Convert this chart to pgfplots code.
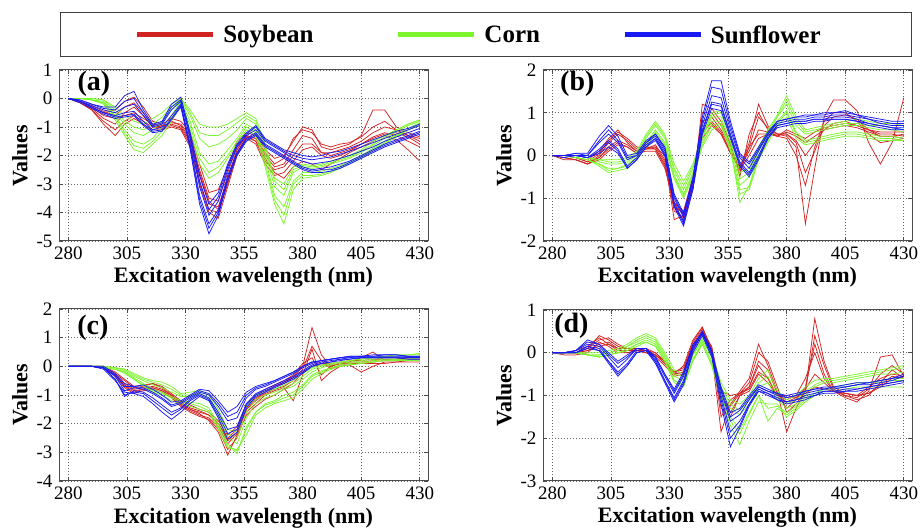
\documentclass[border=0pt]{standalone}
\usepackage{pgfplots}
\pgfplotsset{compat=1.18}
\usepackage{pgfplotstable}
\usepackage{fontspec}
\setmainfont{Liberation Serif}

\definecolor{soy}{RGB}{210,35,35}
\definecolor{corn}{RGB}{125,245,45}
\definecolor{sun}{RGB}{25,25,245}

% ---------- panel (a) ----------
\pgfplotstableread{
name 280 285 290 295 300  304 308 312 316 320 324 328 332 336 340  344 348 352 356 360 364 368 372 376 380  384 388 392 396 400  405 410 415 420 425 430
r1 0 -0.1 -0.3 -0.5 -0.4  -0.1 0.05 -0.3 -0.8 -0.9 -0.7 -0.8 -1.2 -2.3 -3.3  -3.2 -2.4 -1.5 -1.2 -1.3 -1.8 -2.1 -2.0 -1.5 -1.0  -1.1 -1.7 -1.8 -1.7 -1.6  -1.3 -0.4 -0.4 -1.0 -1.2 -1.35
r2 0 -0.1 -0.35 -0.7 -0.9  -0.5 -0.3 -0.6 -1.0 -1.0 -0.9 -1.0 -1.5 -2.7 -3.7  -3.8 -2.8 -1.8 -1.3 -1.4 -2.0 -2.4 -2.3 -1.8 -1.3  -1.4 -1.9 -1.9 -1.8 -1.7  -1.5 -1.2 -1.0 -1.1 -1.3 -1.5
r3 0 -0.15 -0.4 -0.9 -1.3  -0.9 -0.7 -0.9 -1.1 -1.1 -1.0 -1.1 -1.7 -3.0 -4.0  -4.2 -3.1 -2.0 -1.4 -1.6 -2.3 -2.7 -2.6 -2.2 -1.8  -1.7 -2.0 -2.1 -2.0 -1.85  -1.6 -1.35 -1.2 -1.3 -1.5 -1.7
r4 0 -0.1 -0.3 -0.6 -0.7  -0.6 -0.5 -0.7 -0.9 -0.95 -0.85 -0.9 -1.3 -2.5 -3.5  -3.6 -2.6 -1.7 -1.3 -1.5 -2.1 -2.6 -2.8 -2.4 -2.2  -2.3 -2.5 -2.3 -2.1 -1.9  -1.7 -1.5 -1.3 -1.45 -1.8 -2.2
r5 0 -0.1 -0.25 -0.45 -0.6  -0.3 -0.15 -0.5 -0.95 -1.0 -0.8 -0.95 -1.4 -2.6 -3.6  -3.9 -2.9 -1.8 -1.3 -1.4 -1.9 -2.3 -2.1 -1.4 -1.1  -1.2 -1.6 -1.7 -1.6 -1.55  -1.35 -1.0 -0.8 -1.1 -1.3 -1.4
r6 0 -0.15 -0.4 -0.8 -1.1  -0.8 -0.6 -0.8 -1.0 -1.05 -0.95 -1.05 -1.6 -2.9 -3.9  -4.0 -3.0 -1.9 -1.35 -1.5 -2.2 -2.5 -2.4 -2.0 -1.6  -1.6 -1.9 -2.0 -1.9 -1.8  -1.6 -1.4 -1.25 -1.2 -1.35 -1.6
g1 0 0 0 -0.05 -0.3  -0.6 -0.8 -0.9 -0.7 -0.5 -0.2 0.0 -0.4 -0.9 -1.0  -1.0 -0.9 -0.7 -0.5 -0.7 -1.6 -2.8 -3.0 -2.4 -2.3  -2.35 -2.3 -2.2 -2.1 -2.0  -1.8 -1.5 -1.3 -1.1 -0.9 -0.75
g2 0 0 -0.05 -0.1 -0.5  -0.9 -1.2 -1.3 -1.1 -0.8 -0.4 -0.05 -0.6 -1.4 -1.7  -1.6 -1.4 -1.1 -0.7 -0.9 -1.9 -3.1 -3.4 -2.6 -2.4  -2.45 -2.4 -2.3 -2.2 -2.1  -1.9 -1.65 -1.4 -1.15 -0.95 -0.8
g3 0 0 -0.05 -0.15 -0.6  -1.1 -1.5 -1.6 -1.4 -1.0 -0.6 -0.1 -0.8 -1.9 -2.3  -2.2 -1.8 -1.4 -0.9 -1.1 -2.1 -3.4 -3.8 -2.9 -2.6  -2.6 -2.55 -2.45 -2.35 -2.2  -2.0 -1.75 -1.5 -1.25 -1.05 -0.85
g4 0 0 -0.05 -0.2 -0.75  -1.3 -1.8 -1.9 -1.6 -1.3 -0.8 -0.2 -1.1 -2.3 -2.8  -2.6 -2.1 -1.6 -1.1 -1.3 -2.4 -3.7 -4.4 -3.2 -2.8  -2.75 -2.7 -2.6 -2.45 -2.3  -2.1 -1.85 -1.6 -1.35 -1.1 -0.9
g5 0 0 0 -0.05 -0.4  -0.8 -1.0 -1.1 -0.9 -0.65 -0.3 0.0 -0.5 -1.2 -1.3  -1.3 -1.1 -0.85 -0.6 -0.8 -1.75 -2.9 -3.2 -2.5 -2.35  -2.4 -2.35 -2.25 -2.15 -2.05  -1.85 -1.6 -1.35 -1.1 -0.9 -0.75
g6 0 0 -0.05 -0.15 -0.65  -1.2 -1.65 -1.75 -1.5 -1.15 -0.7 -0.15 -0.95 -2.1 -2.6  -2.4 -2.0 -1.5 -1.0 -1.2 -2.25 -3.55 -4.1 -3.0 -2.7  -2.7 -2.65 -2.55 -2.4 -2.25  -2.05 -1.8 -1.55 -1.3 -1.1 -0.9
b1 0 -0.05 -0.2 -0.3 -0.3  0.1 0.25 -0.4 -0.9 -0.8 -0.2 0.05 -1.2 -2.7 -3.7  -3.3 -2.3 -1.6 -1.2 -0.95 -1.4 -1.6 -1.8 -1.9 -2.0  -2.05 -2.0 -1.9 -1.85 -1.75  -1.6 -1.45 -1.3 -1.15 -1.05 -0.9
b2 0 -0.1 -0.25 -0.4 -0.5  -0.3 -0.2 -0.6 -1.0 -0.9 -0.4 -0.1 -1.4 -3.1 -4.1  -3.6 -2.5 -1.7 -1.3 -1.1 -1.5 -1.7 -1.9 -2.1 -2.2  -2.3 -2.25 -2.2 -2.1 -2.0  -1.85 -1.7 -1.5 -1.35 -1.2 -1.05
b3 0 -0.1 -0.3 -0.5 -0.6  -0.5 -0.45 -0.8 -1.1 -1.0 -0.6 -0.2 -1.6 -3.4 -4.4  -3.9 -2.7 -1.9 -1.4 -1.2 -1.6 -1.8 -2.0 -2.2 -2.4  -2.5 -2.45 -2.4 -2.3 -2.2  -2.0 -1.8 -1.6 -1.45 -1.3 -1.15
b4 0 -0.15 -0.35 -0.55 -0.7  -0.65 -0.6 -0.95 -1.2 -1.15 -0.75 -0.3 -1.8 -3.7 -4.75  -4.1 -2.9 -2.0 -1.5 -1.3 -1.7 -1.9 -2.1 -2.3 -2.5  -2.6 -2.6 -2.55 -2.45 -2.3  -2.1 -1.9 -1.7 -1.55 -1.4 -1.25
b5 0 -0.05 -0.2 -0.35 -0.4  -0.1 0.0 -0.5 -0.95 -0.85 -0.3 -0.05 -1.3 -2.9 -3.9  -3.45 -2.4 -1.65 -1.25 -1.0 -1.45 -1.65 -1.85 -2.0 -2.1  -2.15 -2.1 -2.05 -1.95 -1.85  -1.7 -1.55 -1.4 -1.25 -1.1 -0.95
b6 0 -0.1 -0.3 -0.5 -0.65  -0.6 -0.55 -0.9 -1.15 -1.1 -0.7 -0.25 -1.7 -3.55 -4.55  -4.0 -2.8 -1.95 -1.45 -1.25 -1.65 -1.85 -2.05 -2.25 -2.45  -2.55 -2.5 -2.5 -2.4 -2.25  -2.05 -1.85 -1.65 -1.5 -1.35 -1.2
}\rawA
\pgfplotstabletranspose[colnames from=name]\tabA\rawA

% ---------- panel (b) ----------
\pgfplotstableread{
name 280 285 290 295 300  304 308 312 316 320 324 328 332 336 340  344 348 352 356 360 364 368 372 376 380  384 388 392 396 400  405 410 415 420 425 430
r1 0 0 -0.05 -0.1 0.1  0.4 0.6 0.3 0.1 0.2 0.2 0.0 -1.1 -1.4 -0.6  0.8 0.9 0.6 0.2 -0.3 0.3 1.2 0.7 0.5 0.45  0.2 -1.6 -0.3 0.9 1.3  1.3 1.05 0.3 -0.2 0.3 1.35
r2 0 -0.05 -0.1 -0.2 0.0  0.3 0.5 0.35 0.15 0.15 0.25 -0.1 -1.5 -1.4 -0.8  1.2 1.1 0.8 0.3 -0.5 0.5 1.0 0.6 0.45 0.4  0.0 -0.7 0.2 0.8 1.0  1.0 0.8 0.5 0.3 0.35 0.4
r3 0 0 -0.05 -0.15 -0.05  0.2 0.35 0.25 0.1 0.2 0.15 -0.2 -1.2 -1.5 -0.7  0.5 0.8 0.55 0.1 -0.35 0.0 0.4 0.5 0.5 0.5  0.35 0.0 0.3 0.6 0.75  0.8 0.7 0.6 0.55 0.55 0.55
r4 0 -0.1 -0.1 -0.2 -0.1  0.1 0.25 0.2 0.05 0.1 0.1 -0.3 -1.1 -1.3 -0.5  0.4 0.7 0.5 0.05 -0.3 0.1 0.6 0.55 0.45 0.6  0.5 0.4 0.55 0.65 0.7  0.75 0.7 0.6 0.5 0.5 0.45
r5 0 0 -0.05 -0.15 0.05  0.35 0.55 0.4 0.2 0.15 0.2 -0.15 -1.3 -1.45 -0.7  1.0 1.0 0.7 0.25 -0.4 0.2 0.9 0.65 0.5 0.5  0.3 -0.4 0.1 0.7 0.9  0.95 0.85 0.6 0.45 0.45 0.5
r6 0 -0.05 -0.1 -0.2 -0.05  0.15 0.3 0.2 0.05 0.15 0.15 -0.25 -1.2 -1.35 -0.6  0.6 0.75 0.5 0.1 -0.25 0.2 0.5 0.5 0.45 0.55  0.45 0.3 0.45 0.6 0.65  0.7 0.65 0.55 0.45 0.45 0.4
g1 0 0 0 -0.05 -0.1  -0.1 -0.1 -0.05 0.1 0.5 0.8 0.5 -0.2 -0.6 -0.2  0.5 1.0 1.05 0.5 -0.4 -0.3 0.2 0.6 0.95 1.4  0.9 0.6 0.65 0.7 0.75  0.8 0.85 0.8 0.75 0.75 0.7
g2 0 0 0 -0.05 -0.15  -0.2 -0.2 -0.15 0.0 0.4 0.7 0.4 -0.35 -0.8 -0.3  0.4 0.9 0.9 0.3 -0.7 -0.5 0.1 0.5 0.9 1.2  0.7 0.5 0.55 0.6 0.65  0.7 0.7 0.65 0.6 0.6 0.55
g3 0 0 -0.05 -0.1 -0.2  -0.3 -0.3 -0.2 -0.05 0.3 0.6 0.3 -0.45 -0.9 -0.4  0.3 0.8 0.8 0.2 -1.1 -0.7 0.0 0.4 0.8 1.05  0.55 0.35 0.4 0.45 0.5  0.55 0.55 0.5 0.45 0.45 0.4
g4 0 0 -0.05 -0.1 -0.25  -0.4 -0.35 -0.3 -0.1 0.2 0.5 0.2 -0.55 -1.0 -0.5  0.2 0.6 0.7 0.1 -0.9 -0.8 -0.1 0.3 0.7 0.9  0.4 0.25 0.3 0.35 0.4  0.45 0.45 0.4 0.35 0.35 0.35
g5 0 0 0 -0.05 -0.1  -0.15 -0.15 -0.1 0.05 0.45 0.75 0.45 -0.3 -0.7 -0.25  0.45 0.95 1.0 0.4 -0.55 -0.4 0.15 0.55 0.9 1.3  0.8 0.55 0.6 0.65 0.7  0.75 0.75 0.7 0.7 0.65 0.6
g6 0 0 -0.05 -0.1 -0.2  -0.35 -0.3 -0.25 -0.05 0.25 0.55 0.25 -0.5 -0.95 -0.45  0.25 0.7 0.75 0.15 -0.8 -0.75 -0.05 0.35 0.75 1.0  0.5 0.3 0.35 0.4 0.45  0.5 0.5 0.45 0.4 0.4 0.35
b1 0 0 0.05 0.05 0.45  0.7 0.45 0.0 0.05 0.35 0.5 0.2 -0.9 -1.35 -0.5  0.9 1.75 1.75 0.8 0.05 -0.15 0.2 0.55 0.8 0.85  0.9 0.95 0.95 1.0 1.0  1.05 0.95 0.9 0.85 0.8 0.8
b2 0 0 0 0.0 0.3  0.5 0.3 -0.1 0.0 0.3 0.45 0.1 -1.0 -1.45 -0.6  0.7 1.4 1.35 0.6 -0.05 -0.3 0.1 0.5 0.75 0.8  0.85 0.85 0.9 0.9 0.95  0.95 0.9 0.85 0.75 0.7 0.7
b3 0 0 0 -0.05 0.15  0.35 0.15 -0.25 -0.05 0.25 0.4 0.05 -1.1 -1.55 -0.7  0.6 1.25 1.2 0.5 -0.15 -0.4 0.0 0.45 0.7 0.75  0.8 0.8 0.85 0.85 0.9  0.9 0.85 0.75 0.7 0.65 0.65
b4 0 -0.05 0 -0.05 0.05  0.2 0.05 -0.3 -0.1 0.2 0.35 0.0 -1.2 -1.65 -0.8  0.5 1.1 1.05 0.4 -0.25 -0.5 -0.1 0.4 0.65 0.7  0.75 0.75 0.8 0.8 0.85  0.85 0.8 0.7 0.65 0.6 0.6
b5 0 0 0.05 0.0 0.35  0.6 0.35 -0.05 0.0 0.3 0.5 0.15 -0.95 -1.4 -0.55  0.8 1.6 1.55 0.7 0.0 -0.2 0.15 0.5 0.8 0.85  0.9 0.9 0.95 0.95 1.0  1.0 0.95 0.85 0.8 0.75 0.75
b6 0 0 0 -0.05 0.1  0.3 0.1 -0.3 -0.1 0.2 0.4 0.0 -1.15 -1.6 -0.75  0.55 1.2 1.15 0.45 -0.2 -0.45 -0.05 0.4 0.7 0.75  0.8 0.8 0.85 0.85 0.85  0.85 0.8 0.75 0.7 0.65 0.6
}\rawB
\pgfplotstabletranspose[colnames from=name]\tabB\rawB

% ---------- panel (c) ----------
\pgfplotstableread{
name 280 285 290 295 300  304 308 312 316 320 324 328 332 336 340  344 348 352 356 360 364 368 372 376 380  384 388 392 396 400  405 410 415 420 425 430
r1 0 0 0 -0.05 -0.3  -0.6 -0.8 -0.75 -0.7 -0.8 -1.0 -1.3 -1.5 -1.6 -1.7  -2.0 -2.5 -2.2 -1.4 -1.1 -0.9 -0.7 -0.6 -0.4 0.0  1.35 0.4 0.0 0.1 0.15  0.15 0.2 0.25 0.25 0.3 0.3
r2 0 0 0 -0.05 -0.35  -0.75 -0.95 -0.85 -0.8 -0.9 -1.1 -1.4 -1.6 -1.75 -1.85  -2.2 -2.9 -2.5 -1.6 -1.3 -1.0 -0.85 -0.75 -1.2 -0.3  0.6 -0.5 -0.2 0.0 0.05  -0.2 0.0 0.15 0.15 0.2 0.2
r3 0 0 0 0 -0.25  -0.5 -0.75 -0.7 -0.6 -0.7 -0.95 -1.2 -1.35 -1.5 -1.6  -1.9 -2.4 -2.1 -1.3 -1.0 -0.8 -0.65 -0.5 -0.3 0.1  0.3 -0.3 0.0 0.1 0.15  0.3 0.5 0.2 0.2 0.25 0.25
r4 0 0 0 -0.05 -0.3  -0.7 -0.9 -0.8 -0.75 -0.85 -1.05 -1.3 -1.5 -1.65 -1.9  -2.3 -3.1 -2.4 -1.7 -1.4 -1.15 -1.0 -0.8 -0.6 -0.2  0.0 0.05 0.05 0.1 0.1  0.1 0.1 0.1 0.15 0.15 0.15
r5 0 0 0 -0.05 -0.3  -0.65 -0.85 -0.8 -0.75 -0.85 -1.05 -1.35 -1.55 -1.7 -1.8  -2.1 -2.7 -2.35 -1.5 -1.2 -0.95 -0.8 -0.7 -0.5 -0.1  0.7 0.2 -0.1 0.05 0.1  0.1 0.15 0.2 0.2 0.25 0.25
r6 0 0 0 0 -0.2  -0.45 -0.7 -0.65 -0.6 -0.75 -1.0 -1.25 -1.45 -1.55 -1.7  -2.0 -2.6 -2.3 -1.5 -1.15 -0.9 -0.7 -0.55 -0.35 0.0  0.15 0.1 0.1 0.15 0.2  0.2 0.25 0.25 0.25 0.3 0.3
g1 0 0 0 0 -0.05  -0.1 -0.25 -0.4 -0.5 -0.55 -0.7 -0.95 -0.9 -0.85 -1.0  -1.5 -2.2 -2.3 -1.4 -1.0 -0.9 -0.8 -0.65 -0.5 -0.25  -0.05 0.05 0.1 0.15 0.2  0.25 0.3 0.35 0.4 0.4 0.45
g2 0 0 0 0 -0.05  -0.15 -0.35 -0.5 -0.65 -0.75 -0.9 -1.05 -1.05 -1.0 -1.2  -1.75 -2.5 -2.7 -1.8 -1.3 -1.1 -1.0 -0.8 -0.7 -0.45  -0.2 -0.05 0.05 0.1 0.15  0.2 0.25 0.3 0.3 0.35 0.35
g3 0 0 0 -0.05 -0.1  -0.2 -0.4 -0.6 -0.8 -0.9 -1.05 -1.2 -1.25 -1.3 -1.45  -2.0 -2.7 -3.05 -2.1 -1.6 -1.3 -1.2 -1.0 -0.9 -0.65  -0.3 -0.15 -0.05 0.05 0.1  0.15 0.2 0.25 0.25 0.25 0.3
g4 0 0 0 -0.05 -0.1  -0.25 -0.45 -0.7 -0.9 -1.0 -1.2 -1.3 -1.4 -1.5 -1.6  -2.2 -2.85 -2.9 -2.4 -1.7 -1.45 -1.3 -1.2 -1.1 -0.8  -0.45 -0.25 -0.1 0.0 0.05  0.1 0.15 0.2 0.2 0.2 0.2
g5 0 0 0 0 -0.05  -0.1 -0.3 -0.45 -0.55 -0.65 -0.8 -1.0 -1.0 -0.95 -1.1  -1.6 -2.35 -2.5 -1.6 -1.15 -1.0 -0.9 -0.75 -0.6 -0.35  -0.1 0.0 0.1 0.15 0.2  0.25 0.3 0.35 0.35 0.4 0.4
g6 0 0 0 -0.05 -0.1  -0.2 -0.45 -0.65 -0.85 -0.95 -1.1 -1.25 -1.3 -1.4 -1.55  -2.1 -2.8 -2.95 -2.2 -1.6 -1.35 -1.25 -1.1 -1.0 -0.7  -0.35 -0.2 -0.05 0.0 0.05  0.1 0.15 0.2 0.25 0.25 0.25
b1 0 0 0 0 -0.25  -0.6 -0.7 -0.65 -0.8 -1.0 -1.25 -1.2 -1.0 -0.8 -0.85  -1.2 -1.6 -1.4 -0.9 -0.7 -0.6 -0.5 -0.35 -0.2 0.0  0.15 0.2 0.25 0.3 0.35  0.35 0.4 0.4 0.4 0.35 0.35
b2 0 0 0 -0.05 -0.35  -0.85 -0.75 -0.8 -0.95 -1.15 -1.4 -1.3 -1.1 -0.9 -1.0  -1.4 -1.9 -1.8 -1.1 -0.8 -0.7 -0.55 -0.4 -0.25 -0.05  0.1 0.2 0.25 0.3 0.3  0.35 0.35 0.35 0.35 0.35 0.3
b3 0 0 0 -0.05 -0.45  -1.05 -0.85 -0.9 -1.1 -1.35 -1.6 -1.45 -1.15 -0.95 -1.1  -1.6 -2.2 -2.1 -1.3 -0.95 -0.8 -0.65 -0.5 -0.35 -0.15  0.05 0.15 0.2 0.25 0.3  0.3 0.3 0.3 0.3 0.3 0.3
b4 0 0 0 -0.1 -0.5  -0.9 -0.95 -1.05 -1.3 -1.6 -1.85 -1.6 -1.3 -1.05 -1.2  -1.8 -2.55 -2.3 -1.45 -1.05 -0.9 -0.75 -0.6 -0.45 -0.25  0.0 0.1 0.15 0.2 0.25  0.3 0.3 0.3 0.3 0.25 0.25
b5 0 0 0 -0.05 -0.3  -0.7 -0.7 -0.75 -0.9 -1.1 -1.35 -1.25 -1.05 -0.85 -0.95  -1.3 -1.75 -1.6 -1.0 -0.75 -0.65 -0.5 -0.35 -0.2 0.0  0.15 0.2 0.25 0.3 0.35  0.35 0.35 0.4 0.4 0.35 0.35
b6 0 0 0 -0.05 -0.45  -1.0 -0.9 -0.95 -1.2 -1.45 -1.7 -1.5 -1.2 -1.0 -1.15  -1.7 -2.35 -2.2 -1.35 -1.0 -0.85 -0.7 -0.55 -0.4 -0.2  0.0 0.1 0.15 0.25 0.25  0.3 0.3 0.3 0.3 0.3 0.3
}\rawC
\pgfplotstabletranspose[colnames from=name]\tabC\rawC

% ---------- panel (d) ----------
\pgfplotstableread{
name 280 285 290 295 300  304 308 312 316 320 324 328 332 336 340  344 348 352 356 360 364 368 372 376 380  384 388 392 396 400  405 410 415 420 425 430
r1 0 0 0.05 0.15 0.35  0.2 0.1 0.1 0.05 0.0 -0.05 -0.25 -0.5 -0.3 0.3  0.6 0.0 -1.85 -1.2 -0.9 -0.6 0.2 -0.3 -0.9 -1.85  -1.3 -0.9 0.8 -0.2 -0.8  -0.95 -1.0 -0.8 -0.6 -0.5 -0.55
r2 0 0 0.0 0.1 0.4  0.3 0.15 0.1 0.1 0.05 0.0 -0.2 -0.45 -0.4 0.2  0.55 0.1 -1.3 -1.5 -1.0 -0.8 -0.2 -0.4 -0.95 -1.3  -1.1 -0.8 0.2 -0.5 -0.9  -1.05 -1.15 -0.9 -0.1 -0.05 -0.55
r3 0 0 0.0 0.05 0.2  0.25 0.1 0.0 0.05 0.1 0.0 -0.2 -0.5 -0.45 0.15  0.5 0.15 -0.9 -1.0 -0.95 -0.8 -0.3 -0.6 -1.0 -1.1  -1.0 -0.6 0.0 -0.6 -0.9  -1.0 -1.1 -1.0 -0.7 -0.4 -0.6
r4 0 -0.05 -0.05 0.0 0.25  0.15 0.0 0.0 0.05 0.0 -0.1 -0.3 -0.55 -0.5 0.1  0.45 0.05 -1.0 -1.4 -1.0 -0.9 -0.5 -0.7 -1.0 -1.0  -1.05 -0.95 -0.8 -0.85 -0.9  -0.95 -1.0 -0.95 -0.8 -0.6 -0.6
r5 0 0 0.0 0.1 0.3  0.35 0.2 0.1 0.1 0.05 -0.05 -0.25 -0.45 -0.35 0.25  0.6 0.1 -1.5 -1.1 -0.95 -0.7 0.0 -0.2 -0.8 -1.4  -1.2 -0.9 0.4 -0.3 -0.85  -1.0 -1.05 -0.85 -0.5 -0.3 -0.5
r6 0 0 0.0 0.05 0.15  0.2 0.05 0.05 0.05 0.05 -0.05 -0.2 -0.5 -0.45 0.1  0.5 0.05 -1.1 -1.25 -0.95 -0.85 -0.45 -0.6 -1.0 -1.15  -1.05 -0.85 -0.5 -0.7 -0.9  -0.95 -1.0 -0.95 -0.75 -0.55 -0.6
g1 0 0 0 0 0.0  0.05 0.1 0.2 0.35 0.45 0.35 0.0 -0.4 -0.5 0.0  0.35 0.0 -0.7 -1.1 -1.2 -1.0 -0.6 -0.4 -0.9 -1.1  -1.0 -0.8 -0.65 -0.6 -0.6  -0.55 -0.5 -0.45 -0.4 -0.35 -0.3
g2 0 0 0 -0.05 -0.05  0.0 0.05 0.15 0.25 0.35 0.25 -0.1 -0.55 -0.65 -0.05  0.3 -0.1 -0.85 -1.3 -1.45 -1.2 -0.8 -0.7 -1.1 -1.3  -1.2 -1.0 -0.8 -0.7 -0.7  -0.65 -0.6 -0.55 -0.5 -0.5 -0.45
g3 0 0 0 -0.05 -0.1  -0.05 0.0 0.1 0.2 0.3 0.2 -0.15 -0.65 -0.75 -0.15  0.25 -0.2 -0.95 -1.5 -1.8 -1.4 -1.0 -1.6 -1.3 -1.45  -1.3 -1.1 -0.95 -0.85 -0.8  -0.75 -0.7 -0.7 -0.65 -0.6 -0.6
g4 0 0 0 -0.05 -0.1  -0.05 0.0 0.05 0.15 0.25 0.15 -0.2 -0.7 -0.8 -0.2  0.2 -0.3 -1.1 -1.7 -2.15 -1.6 -1.15 -1.2 -1.2 -1.5  -1.35 -1.15 -1.0 -0.9 -0.9  -0.85 -0.8 -0.8 -0.8 -0.8 -0.8
g5 0 0 0 -0.05 -0.05  0.0 0.05 0.15 0.3 0.4 0.3 -0.05 -0.5 -0.55 -0.05  0.3 -0.05 -0.8 -1.2 -1.35 -1.1 -0.7 -0.55 -1.0 -1.2  -1.1 -0.9 -0.75 -0.65 -0.65  -0.6 -0.55 -0.5 -0.45 -0.4 -0.35
g6 0 0 0 -0.05 -0.1  -0.05 0.0 0.05 0.2 0.25 0.15 -0.2 -0.65 -0.75 -0.15  0.2 -0.25 -1.0 -1.6 -1.9 -1.45 -1.0 -1.3 -1.25 -1.4  -1.25 -1.05 -0.95 -0.85 -0.85  -0.8 -0.75 -0.7 -0.7 -0.65 -0.65
b1 0 0 0.05 0.3 0.2  0.0 -0.2 -0.05 0.1 0.1 -0.1 -0.5 -0.85 -0.45 0.2  0.45 0.0 -0.8 -1.4 -1.3 -1.0 -0.75 -0.85 -0.95 -1.0  -0.95 -0.9 -0.85 -0.8 -0.8  -0.75 -0.7 -0.7 -0.65 -0.6 -0.5
b2 0 0 0.05 0.2 0.15  -0.1 -0.35 -0.15 0.1 0.1 -0.15 -0.55 -0.95 -0.55 0.15  0.5 0.05 -0.9 -1.6 -1.45 -1.1 -0.8 -0.9 -1.0 -1.05  -1.0 -0.95 -0.9 -0.85 -0.85  -0.8 -0.75 -0.75 -0.7 -0.65 -0.55
b3 0 0 0.0 0.15 0.1  -0.2 -0.45 -0.25 0.05 0.1 -0.2 -0.65 -1.05 -0.65 0.1  0.45 0.0 -1.0 -1.85 -1.6 -1.2 -0.85 -0.95 -1.05 -1.15  -1.1 -1.0 -0.95 -0.9 -0.9  -0.85 -0.85 -0.8 -0.75 -0.7 -0.65
b4 0 0 0.0 0.1 0.05  -0.25 -0.55 -0.3 0.0 0.05 -0.25 -0.7 -1.15 -0.75 0.0  0.4 -0.1 -1.2 -2.2 -1.75 -1.25 -0.9 -1.0 -1.1 -1.2  -1.15 -1.1 -1.0 -0.95 -0.95  -0.9 -0.9 -0.85 -0.8 -0.75 -0.7
b5 0 0 0.05 0.25 0.2  -0.05 -0.25 -0.1 0.1 0.1 -0.1 -0.5 -0.9 -0.5 0.15  0.5 0.05 -0.85 -1.5 -1.35 -1.05 -0.8 -0.9 -0.95 -1.05  -1.0 -0.9 -0.85 -0.85 -0.8  -0.8 -0.75 -0.7 -0.65 -0.6 -0.55
b6 0 0 0.0 0.15 0.05  -0.2 -0.5 -0.3 0.0 0.05 -0.2 -0.65 -1.1 -0.7 0.05  0.45 -0.05 -1.1 -2.0 -1.7 -1.2 -0.9 -0.95 -1.1 -1.15  -1.1 -1.05 -1.0 -0.9 -0.9  -0.9 -0.85 -0.8 -0.75 -0.7 -0.65
}\rawD
\pgfplotstabletranspose[colnames from=name]\tabD\rawD

\tikzset{plab/.style={anchor=base west, font=\bfseries\fontsize{28bp}{30bp}\selectfont, inner sep=0pt}}

\pgfplotsset{
 panel/.style={
  scale only axis, width=369bp, height=171bp,
  anchor=north west,
  xmin=276, xmax=433.5,
  xtick={280,305,330,355,380,405,430},
  grid=major,
  major grid style={dash pattern=on 1bp off 2bp, black!60, line width=0.7bp},
  axis line style={black!70, line width=1bp},
  tick style={black!70, line width=0.8bp},
  major tick length=4bp,
  tick align=inside,
  /pgf/number format/assume math mode=true,
  tick label style={font=\fontsize{19bp}{20bp}\selectfont},
  xticklabel shift=2bp, yticklabel shift=3bp,
  label style={font=\bfseries\fontsize{22bp}{24bp}\selectfont},
  xlabel={Excitation wavelength (nm)},
  ylabel={Values},
  xlabel style={at={(axis description cs:0.5,-0.245)}, anchor=base},
  ylabel style={at={(axis description cs:-0.106,0.5)}, anchor=center},
  every axis plot/.append style={line width=0.75bp},
 },
}

\newcommand{\drawall}[1]{%
  \pgfplotsinvokeforeach{r1,r2,r3,r4,r5,r6}{\addplot[soy, forget plot] table[x=colnames,y=##1]{#1};}
  \pgfplotsinvokeforeach{g1,g2,g3,g4,g5,g6}{\addplot[corn, forget plot] table[x=colnames,y=##1]{#1};}
  \pgfplotsinvokeforeach{b1,b2,b3,b4,b5,b6}{\addplot[sun, forget plot] table[x=colnames,y=##1]{#1};}
}

\begin{document}
\begin{tikzpicture}
\useasboundingbox (0,0) rectangle (923bp,530bp);

\begin{axis}[panel, at={(59bp,460bp)}, ymin=-5, ymax=1, ytick={-5,-4,-3,-2,-1,0,1},
  legend columns=3,
  legend style={at={(axis description cs:1.1369,1.2047)}, anchor=center, draw=none, fill=none,
    font=\bfseries\fontsize{25bp}{28bp}\selectfont,
    /tikz/every even column/.append style={column sep=80bp}},
  legend image code/.code={\draw[#1, line width=5bp] (0bp,0bp) -- (76bp,0bp); \path (84bp,0bp);}]
\drawall{\tabA}
\addlegendimage{soy}\addlegendentry{Soybean}
\addlegendimage{corn}\addlegendentry{Corn}
\addlegendimage{sun}\addlegendentry{Sunflower}
\node[plab] at (axis description cs:0.05,0.883) {(a)};
\end{axis}

\begin{axis}[panel, at={(543bp,460bp)}, ymin=-2, ymax=2, ytick={-2,-1,0,1,2}]
\drawall{\tabB}
\node[plab] at (axis description cs:0.046,0.883) {(b)};
\end{axis}

\begin{axis}[panel, at={(59bp,221bp)}, height=172bp, ymin=-4, ymax=2, ytick={-4,-3,-2,-1,0,1,2}]
\drawall{\tabC}
\node[plab] at (axis description cs:0.049,0.849) {(c)};
\end{axis}

\begin{axis}[panel, at={(543bp,220bp)}, ymin=-3, ymax=1, ytick={-3,-2,-1,0,1}]
\drawall{\tabD}
\node[plab] at (axis description cs:0.03,0.871) {(d)};
\end{axis}

\draw[black!75, line width=1bp] (60bp,473bp) rectangle (911bp,517bp);
\end{tikzpicture}
\end{document}
